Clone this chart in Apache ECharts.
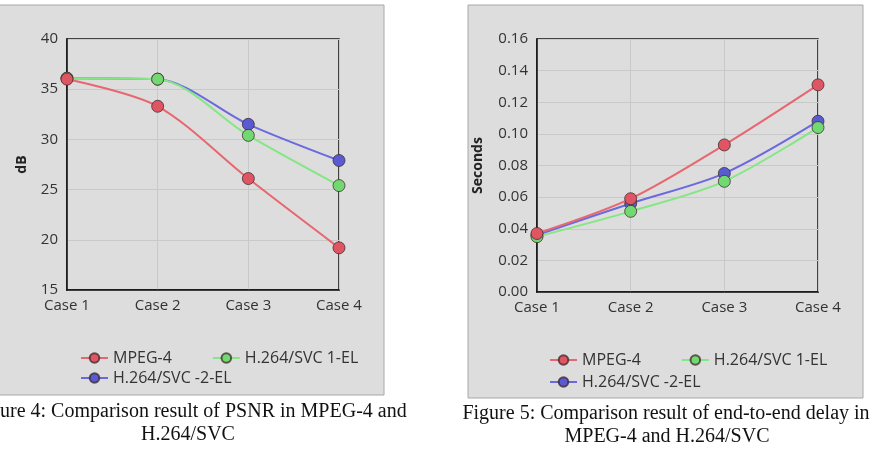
<!DOCTYPE html>
<html>
<head>
<meta charset="utf-8">
<script src="https://cdn.jsdelivr.net/npm/echarts@6/dist/echarts.min.js"></script>
<style>
html,body{margin:0;padding:0;background:#fff;}
#main{width:870px;height:454px;}
</style>
</head>
<body>
<div id="main"></div>
<script>
// 数据
var cases = ['Case 1', 'Case 2', 'Case 3', 'Case 4'];
var seriesNames = ['MPEG-4', 'H.264/SVC 1-EL', 'H.264/SVC -2-EL'];
var psnrMpeg4 = [36.0, 33.3, 26.1, 19.2];
var psnrSvc1 = [36.1, 36.0, 30.4, 25.4];
var psnrSvc2 = [36.1, 36.0, 31.5, 27.9];
var delayMpeg4 = [0.037, 0.059, 0.093, 0.131];
var delaySvc1 = [0.035, 0.051, 0.070, 0.104];
var delaySvc2 = [0.036, 0.056, 0.075, 0.108];
var captionLeft = ['Figure 4: Comparison result of PSNR in MPEG-4 and', 'H.264/SVC'];
var captionRight = ['Figure 5: Comparison result of end-to-end delay in', 'MPEG-4 and H.264/SVC'];

var lineColors = ['#e8666f', '#84e684', '#6a6ade'];
var dotColors = ['#e05563', '#72d872', '#5a5ad2'];
var sans = '"Open Sans", "Noto Sans", sans-serif';

function mkSeries(name, idx, data, axisIdx){
	return {
		name: name,
		type: 'line',
		xAxisIndex: axisIdx,
		yAxisIndex: axisIdx,
		data: data,
		smooth: 0.3,
		symbol: 'circle',
		symbolSize: 12,
		z: 5 - idx,
		lineStyle: {color: lineColors[idx], width: 2},
		itemStyle: {color: dotColors[idx], borderColor: 'rgba(60,40,40,0.75)', borderWidth: 1},
		emphasis: {disabled: true}
	};
}

function mkYAxis(gi, name, min, max, interval, gap, fmt){
	return {
		type: 'value', gridIndex: gi, min: min, max: max, interval: interval,
		name: name, nameLocation: 'middle', nameGap: gap,
		nameTextStyle: {fontFamily: sans, fontWeight: 'bold', fontSize: 14, color: '#222'},
		axisLine: {show: true, lineStyle: {color: '#111', width: 1.5}},
		axisTick: {show: false},
		axisLabel: {fontFamily: sans, fontSize: 15, color: '#333', margin: 9, formatter: fmt},
		splitLine: {lineStyle: {color: '#c9c9c9', width: 1}}
	};
}

function mkXAxis(gi){
	return {
		type: 'category', gridIndex: gi, data: cases, boundaryGap: false,
		axisLine: {lineStyle: {color: '#111', width: 1.5}},
		axisTick: {show: false},
		axisLabel: {fontFamily: sans, fontSize: 15, color: '#333', margin: 8},
		splitLine: {show: true, lineStyle: {color: '#c9c9c9', width: 1}}
	};
}

function mkLegend(left, top, names){
	return {
		left: left, top: top, data: names, itemWidth: 27, itemHeight: 12, itemGap: 40,
		selectedMode: false,
		textStyle: {fontFamily: sans, fontSize: 16, color: '#333'}
	};
}

var capFont = '"Liberation Serif", "DejaVu Serif", serif';
function mkCaption(x, y, txt){
	return {type: 'text', x: x, y: y, style: {text: txt, font: '20px ' + capFont, fill: '#111', align: 'center', verticalAlign: 'middle'}};
}

var myChart = echarts.init(document.getElementById('main'));
var option = {
	animation: false,
	backgroundColor: '#ffffff',
	graphic: [
		{type: 'rect', shape: {x: -10, y: 5, width: 394, height: 390}, style: {fill: '#dddddd', stroke: '#a8a8a8', lineWidth: 1}, z: -10},
		{type: 'rect', shape: {x: 468, y: 5, width: 395, height: 393}, style: {fill: '#dddddd', stroke: '#a8a8a8', lineWidth: 1}, z: -10},
		mkCaption(190, 412, captionLeft[0]),
		mkCaption(188, 435, captionLeft[1]),
		mkCaption(666, 414, captionRight[0]),
		mkCaption(667, 437, captionRight[1])
	],
	grid: [
		{left: 67, right: 531, top: 39, bottom: 164, show: true, borderColor: '#111', borderWidth: 1.5, backgroundColor: 'transparent'},
		{left: 537, right: 52, top: 39, bottom: 162, show: true, borderColor: '#111', borderWidth: 1.5, backgroundColor: 'transparent'}
	],
	xAxis: [mkXAxis(0), mkXAxis(1)],
	yAxis: [
		mkYAxis(0, 'dB', 15, 40, 5, 38),
		mkYAxis(1, 'Seconds', 0, 0.16, 0.02, 52, function(v){ return v.toFixed(2); })
	],
	legend: [
		mkLegend(75, 345, [seriesNames[0], seriesNames[1]]),
		mkLegend(75, 365, [seriesNames[2]]),
		mkLegend(544, 347, [seriesNames[0], seriesNames[1]]),
		mkLegend(544, 369, [seriesNames[2]])
	],
	series: [
		mkSeries(seriesNames[0], 0, psnrMpeg4, 0),
		mkSeries(seriesNames[1], 1, psnrSvc1, 0),
		mkSeries(seriesNames[2], 2, psnrSvc2, 0),
		mkSeries(seriesNames[0], 0, delayMpeg4, 1),
		mkSeries(seriesNames[1], 1, delaySvc1, 1),
		mkSeries(seriesNames[2], 2, delaySvc2, 1)
	]
};
myChart.setOption(option);
</script>
</body>
</html>
